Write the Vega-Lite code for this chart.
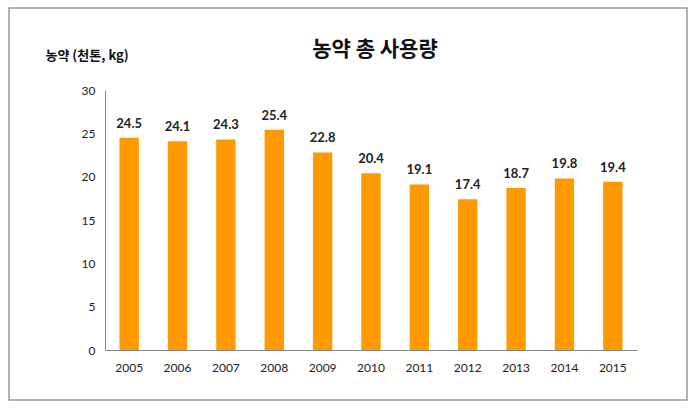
{
  "$schema": "https://vega.github.io/schema/vega-lite/v6.json",
  "autosize": {"type": "none"},
  "width": 678,
  "height": 392,
  "padding": {"left": 9, "top": 8, "right": 5, "bottom": 8},
  "background": "white",
  "config": {
    "view": {"stroke": "#9a9a9a", "strokeWidth": 1.5},
    "font": "Lato"
  },
  "title": {
    "text": "농약 총 사용량",
    "font": "Noto Sans CJK KR",
    "fontSize": 21,
    "fontWeight": "bold",
    "color": "#111111",
    "anchor": "middle",
    "frame": "group",
    "dx": 27,
    "offset": -52
  },
  "data": {
    "values": [
      {"year": "2005", "value": 24.5},
      {"year": "2006", "value": 24.1},
      {"year": "2007", "value": 24.3},
      {"year": "2008", "value": 25.4},
      {"year": "2009", "value": 22.8},
      {"year": "2010", "value": 20.4},
      {"year": "2011", "value": 19.1},
      {"year": "2012", "value": 17.4},
      {"year": "2013", "value": 18.7},
      {"year": "2014", "value": 19.8},
      {"year": "2015", "value": 19.4}
    ]
  },
  "encoding": {
    "x": {
      "field": "year",
      "type": "ordinal",
      "scale": {"range": [96, 628], "paddingInner": 0.6, "paddingOuter": 0.3},
      "axis": {
        "title": null,
        "labelAngle": 0,
        "ticks": false,
        "labelPadding": 12,
        "labelFontSize": 12,
        "labelColor": "#222222",
        "labelFont": "Lato",
        "domainColor": "#888888",
        "offset": -50
      }
    },
    "y": {
      "field": "value",
      "type": "quantitative",
      "scale": {"domain": [0, 30], "range": [342, 82], "nice": false, "zero": true},
      "axis": {
        "values": [0, 5, 10, 15, 20, 25, 30],
        "grid": false,
        "ticks": false,
        "labelPadding": 10,
        "labelFontSize": 12,
        "labelColor": "#222222",
        "labelFont": "Lato",
        "domainColor": "#888888",
        "offset": -96,
        "title": "농약 (천톤, kg)",
        "titleFont": "Noto Sans CJK KR",
        "titleFontSize": 13,
        "titleFontWeight": "bold",
        "titleColor": "#111111",
        "titleAngle": 0,
        "titleAlign": "left",
        "titleBaseline": "middle",
        "titleX": -60,
        "titleY": 47
      }
    }
  },
  "layer": [
    {"mark": {"type": "bar", "color": "#FF9900"}},
    {
      "mark": {"type": "text", "baseline": "bottom", "dy": -7, "fontWeight": "bold", "fontSize": 13, "font": "Lato", "color": "#222222"},
      "encoding": {"text": {"field": "value", "type": "quantitative", "format": ".1f"}}
    }
  ]
}
